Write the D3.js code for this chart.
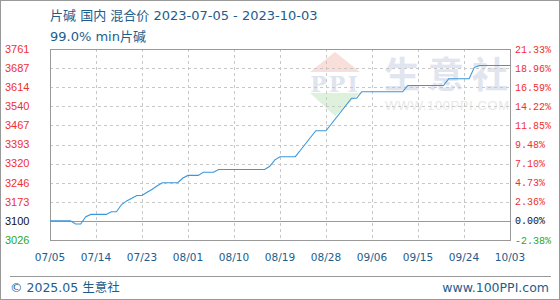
<!DOCTYPE html>
<html>
<head>
<meta charset="utf-8">
<script src="https://cdn.jsdelivr.net/npm/d3@7"></script>
<style>
  body { margin: 0; background: #fff; }
  svg { display: block; }
</style>
</head>
<body>
<div id="chart"></div>
<script>
// Chart data
const dates = [
    '2023-07-05', '2023-07-09', '2023-07-10', '2023-07-11', '2023-07-12', '2023-07-13',
    '2023-07-16', '2023-07-17', '2023-07-18', '2023-07-19', '2023-07-20', '2023-07-21',
    '2023-07-22', '2023-07-23', '2023-07-24', '2023-07-25', '2023-07-26', '2023-07-27',
    '2023-07-30', '2023-07-31', '2023-08-01', '2023-08-03', '2023-08-04', '2023-08-06',
    '2023-08-07', '2023-08-16', '2023-08-17', '2023-08-18', '2023-08-19', '2023-08-22',
    '2023-08-23', '2023-08-24', '2023-08-25', '2023-08-26', '2023-08-28', '2023-08-29',
    '2023-08-30', '2023-08-31', '2023-09-01', '2023-09-02', '2023-09-03', '2023-09-04',
    '2023-09-12', '2023-09-13', '2023-09-20', '2023-09-21', '2023-09-25', '2023-09-26',
    '2023-09-27', '2023-10-03'
];
const prices = [
    3100, 3100, 3088, 3088, 3116, 3125,
    3125, 3135, 3135, 3163, 3177, 3187,
    3198, 3198, 3210, 3222, 3235, 3247,
    3247, 3265, 3275, 3275, 3287, 3287,
    3298, 3298, 3310, 3335, 3347, 3347,
    3372, 3397, 3422, 3447, 3447, 3472,
    3497, 3522, 3547, 3572, 3572, 3597,
    3597, 3621, 3621, 3647, 3647, 3690,
    3698, 3698
];

const basePrice = 3100;
const priceStep = 73.5;
const priceTickLabels = ['3026', '3100', '3173', '3246', '3320', '3393', '3467', '3540', '3614', '3687', '3761'];
const pctTickLabels = ['-2.38%', '0.00%', '2.36%', '4.73%', '7.10%', '9.48%', '11.85%', '14.22%', '16.59%', '18.96%', '21.33%'];
const dateTickLabels = ['07/05', '07/14', '07/23', '08/01', '08/10', '08/19', '08/28', '09/06', '09/15', '09/24', '10/03'];

const titleText = '片碱 国内 混合价 2023-07-05 - 2023-10-03';
const subtitleText = '99.0% min片碱';

const W = 560, H = 300;
const plot = { left: 50, right: 510, top: 49, bottom: 240 };
const blue = '#1d5d8c';

const parseDate = d3.timeParse('%Y-%m-%d');
const data = dates.map((d, i) => ({ date: parseDate(d), value: prices[i] }));

const svg = d3.select('#chart').append('svg')
    .attr('width', W)
    .attr('height', H);

// outer frame
svg.append('rect')
    .attr('x', 0.5).attr('y', 0.5)
    .attr('width', W - 1).attr('height', H - 1)
    .style('fill', 'none')
    .style('stroke', '#999');

const xScale = d3.scaleTime()
    .domain([parseDate('2023-07-05'), parseDate('2023-10-03')])
    .range([plot.left, plot.right]);

const yScale = d3.scaleLinear()
    .domain([basePrice - priceStep, basePrice + 9 * priceStep])
    .range([plot.bottom, plot.top]);

const yTicks = priceTickLabels.map((_, i) => basePrice + (i - 1) * priceStep);
const xTicks = dateTickLabels.map(s => parseDate('2023-' + s.replace('/', '-')));

// titles
svg.append('text')
    .attr('x', 50).attr('y', 20)
    .style('font-family', '"DejaVu Sans", "Noto Sans CJK SC", sans-serif')
    .style('font-size', '13px')
    .style('fill', blue)
    .text(titleText);

svg.append('text')
    .attr('x', 50).attr('y', 41)
    .style('font-family', '"DejaVu Sans", "Noto Sans CJK SC", sans-serif')
    .style('font-size', '13px')
    .style('fill', blue)
    .text(subtitleText);

// watermark
const wm = svg.append('g').attr('class', 'watermark');
wm.append('path')
    .attr('d', 'M335,52 L360,72 L310,72 Z')
    .style('fill', '#f8dfda');
wm.append('path')
    .attr('d', 'M310,93 L360,93 L335,116 Z')
    .style('fill', '#ddf1dd');
wm.append('text')
    .attr('x', 335).attr('y', 92)
    .attr('text-anchor', 'middle')
    .style('font-family', '"DejaVu Serif", serif')
    .style('font-size', '22px')
    .style('font-weight', 'bold')
    .style('letter-spacing', '2px')
    .style('fill', '#dfe4ef')
    .text('PPI');
wm.append('text')
    .attr('x', 384).attr('y', 88)
    .style('font-family', '"Noto Sans CJK SC", sans-serif')
    .style('font-size', '36px')
    .style('font-weight', 'bold')
    .style('letter-spacing', '8px')
    .style('fill', '#e1e5ef')
    .text('生意社');
wm.append('text')
    .attr('x', 385).attr('y', 110)
    .attr('textLength', 124)
    .style('font-family', '"Liberation Sans", sans-serif')
    .style('font-size', '13px')
    .style('fill', '#e8e8e8')
    .text('WWW.100PPI.COM');

// grid
svg.append('g')
    .selectAll('line')
    .data(yTicks.slice(1, -1).filter(v => v !== basePrice))
    .enter().append('line')
    .attr('x1', plot.left).attr('x2', plot.right)
    .attr('y1', d => Math.round(yScale(d)) + 0.5)
    .attr('y2', d => Math.round(yScale(d)) + 0.5)
    .style('stroke', '#c8c8c8')
    .style('stroke-dasharray', '3,3');

svg.append('g')
    .selectAll('line')
    .data(xTicks.slice(1, -1))
    .enter().append('line')
    .attr('x1', d => Math.round(xScale(d)) + 0.5)
    .attr('x2', d => Math.round(xScale(d)) + 0.5)
    .attr('y1', plot.top).attr('y2', plot.bottom)
    .style('stroke', '#c8c8c8')
    .style('stroke-dasharray', '3,3');

// base line at 0%
svg.append('line')
    .attr('x1', plot.left).attr('x2', plot.right)
    .attr('y1', Math.round(yScale(basePrice)) + 0.5)
    .attr('y2', Math.round(yScale(basePrice)) + 0.5)
    .style('stroke', '#999');

// plot frame
svg.append('rect')
    .attr('x', plot.left + 0.5).attr('y', plot.top + 0.5)
    .attr('width', plot.right - plot.left).attr('height', plot.bottom - plot.top)
    .style('fill', 'none')
    .style('stroke', '#999');

// price line
const line = d3.line()
    .x(d => xScale(d.date))
    .y(d => yScale(d.value));

svg.append('path')
    .datum(data)
    .attr('d', line)
    .style('fill', 'none')
    .style('stroke', '#3a97d9')
    .style('stroke-width', 1.1);

// left price axis
const tickColor = i => i === 0 ? '#2aa82a' : (i === 1 ? '#111' : '#f03030');

svg.append('g')
    .selectAll('text')
    .data(yTicks)
    .enter().append('text')
    .attr('x', 5)
    .attr('y', d => yScale(d))
    .attr('dy', '0.35em')
    .style('font-family', '"Liberation Sans", Arial, sans-serif')
    .style('font-size', '11px')
    .style('fill', (d, i) => tickColor(i))
    .text((d, i) => priceTickLabels[i]);

// right percent axis
svg.append('g')
    .selectAll('text')
    .data(yTicks)
    .enter().append('text')
    .attr('x', 515)
    .attr('y', d => yScale(d))
    .attr('dy', '0.35em')
    .style('font-family', '"Liberation Mono", monospace')
    .style('font-size', '10px')
    .style('fill', (d, i) => tickColor(i))
    .text((d, i) => pctTickLabels[i]);

// bottom date axis
svg.append('g')
    .selectAll('text')
    .data(xTicks)
    .enter().append('text')
    .attr('x', d => xScale(d))
    .attr('y', 261)
    .attr('text-anchor', 'middle')
    .style('font-family', '"DejaVu Sans", sans-serif')
    .style('font-size', '10.5px')
    .style('fill', blue)
    .text((d, i) => dateTickLabels[i]);

// footer
svg.append('line')
    .attr('x1', 10).attr('x2', 551)
    .attr('y1', 276.5).attr('y2', 276.5)
    .style('stroke', '#999');

svg.append('text')
    .attr('x', 10).attr('y', 292)
    .style('font-family', '"DejaVu Sans", "Noto Sans CJK SC", sans-serif')
    .style('font-size', '12.5px')
    .style('fill', blue)
    .text('© 2025.05 生意社');

svg.append('text')
    .attr('x', 549).attr('y', 292)
    .attr('text-anchor', 'end')
    .style('font-family', '"DejaVu Sans", sans-serif')
    .style('font-size', '12.5px')
    .style('fill', blue)
    .text('www.100PPI.com');
</script>
</body>
</html>
